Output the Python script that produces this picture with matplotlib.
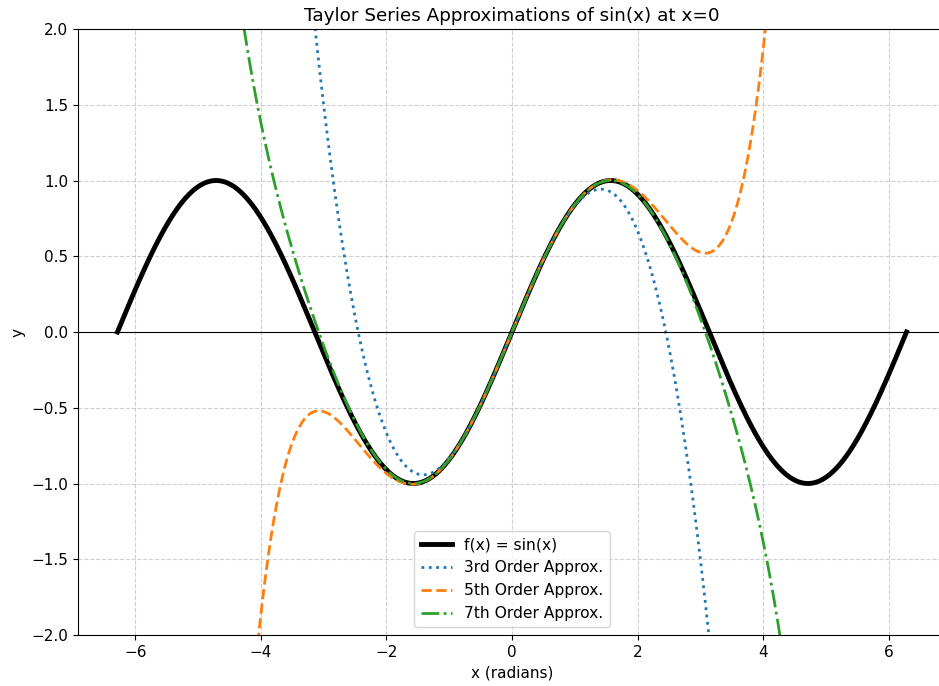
import numpy as np
import matplotlib
matplotlib.use("Agg")
import matplotlib.pyplot as plt

# x range shown: -2*pi .. 2*pi
x_min, x_max = -2 * np.pi, 2 * np.pi
n_pts = 1000

# Taylor coefficients of sin(x) about 0 for powers 1, 3, 5, 7
powers = [1, 3, 5, 7]
coeffs = [1.0, -1.0 / 6, 1.0 / 120, -1.0 / 5040]
orders = [3, 5, 7]
labels = ["3rd Order Approx.", "5th Order Approx.", "7th Order Approx."]
styles = [":", "--", "-."]
colors = ["#1f77b4", "#ff7f0e", "#2ca02c"]

x = np.linspace(x_min, x_max, n_pts)


def taylor(x, order):
    y = np.zeros_like(x)
    for p, c in zip(powers, coeffs):
        if p <= order:
            y += c * x**p
    return y


fig = plt.figure(figsize=(9.39, 6.86), dpi=100)
ax = fig.add_axes([78 / 939, 51 / 686, 868 / 939, 606 / 686])

ax.plot(x, np.sin(x), color="black", lw=3.5, label="f(x) = sin(x)")
for o, lab, ls, c in zip(orders, labels, styles, colors):
    ax.plot(x, taylor(x, o), ls=ls, color=c, lw=2, label=lab)

ax.axhline(0, color="black", lw=0.8)
ax.set_ylim(-2, 2)
ax.grid(True, ls="--", alpha=0.6)
ax.tick_params(labelsize=11)
ax.set_title("Taylor Series Approximations of sin(x) at x=0", fontsize=13.2)
ax.set_xlabel("x (radians)", fontsize=11)
ax.set_ylabel("y", fontsize=11)
ax.legend(loc="lower center", fontsize=11.2)

fig.savefig("out.png", dpi=100)
